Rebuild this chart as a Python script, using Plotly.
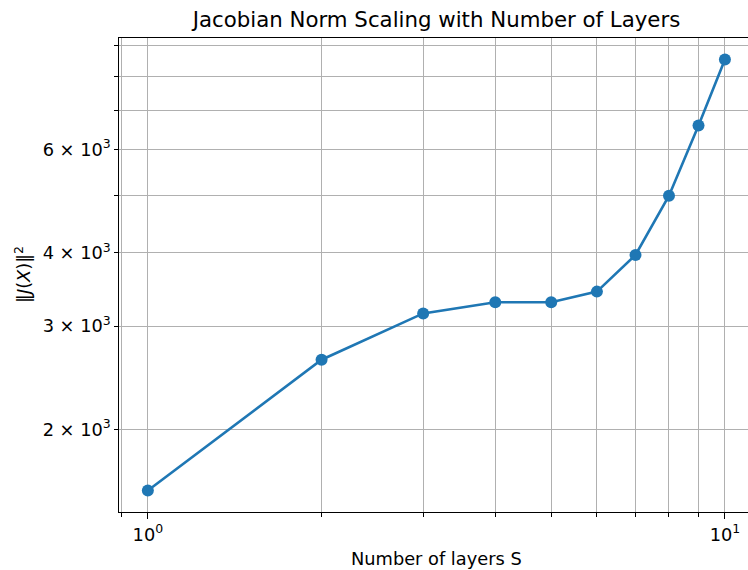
import math
import plotly.graph_objects as go

# Jacobian norm measured for each network depth
layers = [1, 2, 3, 4, 5, 6, 7, 8, 9, 10]
jacobian_norm_sq = [1576, 2631, 3155, 3295, 3295, 3436, 3967, 5005, 6589, 8534]

# Tick positions and labels
x_major = [1, 10]
x_major_text = ["10<sup>0</sup>", "10<sup>1</sup>"]
x_minor = [0.9, 2, 3, 4, 5, 6, 7, 8, 9, 11]
y_ticks = [2000, 3000, 4000, 5000, 6000, 7000, 8000, 9000]
y_tick_text = ["2 × 10<sup>3</sup>", "3 × 10<sup>3</sup>", "4 × 10<sup>3</sup>", "",
               "6 × 10<sup>3</sup>", "", "", ""]

FONT = "DejaVu Sans"
GRID = "#b0b0b0"
LABEL_SIZE = 17.8
TITLE_SIZE = 21.3
LW = 1.4
W, H = 748, 570
ML, MT, MB, MR = 119, 38, 58, 0

fig = go.Figure()
fig.add_trace(go.Scatter(
    x=layers, y=jacobian_norm_sq, mode="lines+markers",
    line=dict(color="#1f77b4", width=2.6),
    marker=dict(color="#1f77b4", size=12),
    showlegend=False,
))

# log-space limits with 5% padding on each side
xlo, xhi = math.log10(min(layers)), math.log10(max(layers))
xpad = 0.05 * (xhi - xlo)
ylo, yhi = math.log10(min(jacobian_norm_sq)), math.log10(max(jacobian_norm_sq))
ypad = 0.05 * (yhi - ylo)

fig.update_xaxes(
    type="log",
    range=[xlo - xpad, xhi + 0.04],
    tickvals=x_major, ticktext=x_major_text,
    ticks="outside", ticklen=6, tickwidth=LW, tickcolor="black",
    showgrid=True, gridcolor=GRID, gridwidth=LW,
    minor=dict(tickvals=x_minor, ticks="outside", ticklen=3.5, tickwidth=LW,
               tickcolor="black", showgrid=True, gridcolor=GRID, gridwidth=LW),
    showline=True, linecolor="black", linewidth=LW, mirror=True,
    zeroline=False,
    tickfont=dict(family=FONT, size=LABEL_SIZE, color="black"),
)
fig.update_yaxes(
    type="log",
    range=[ylo - ypad, yhi + ypad],
    tickvals=y_ticks, ticktext=y_tick_text,
    ticks="outside", ticklen=3.5, tickwidth=LW, tickcolor="black",
    showgrid=True, gridcolor=GRID, gridwidth=LW,
    showline=True, linecolor="black", linewidth=LW, mirror=False,
    zeroline=False,
    tickfont=dict(family=FONT, size=LABEL_SIZE, color="black"),
)

pw = W - ML - MR
ph = H - MT - MB
fig.add_annotation(
    text="Number of layers S", xref="paper", yref="paper",
    x=(436.5 - ML) / pw, y=(H - MB - 558) / ph,
    showarrow=False, xanchor="center", yanchor="middle",
    font=dict(family=FONT, size=LABEL_SIZE, color="black"),
)
fig.add_annotation(
    text="‖<i>J</i>(<i>X</i>)‖<sup>2</sup>", xref="paper", yref="paper",
    x=(22 - ML) / pw, y=0.5, textangle=-90,
    showarrow=False, xanchor="center", yanchor="middle",
    font=dict(family=FONT, size=LABEL_SIZE, color="black"),
)

fig.update_layout(
    width=W, height=H,
    margin=dict(l=ML, r=MR, t=MT, b=MB),
    paper_bgcolor="white", plot_bgcolor="white",
    title=dict(text="Jacobian Norm Scaling with Number of Layers",
               x=436.5 / W, xanchor="center", y=1 - 20 / H, yanchor="middle",
               font=dict(family=FONT, size=TITLE_SIZE, color="black")),
)

fig.write_html("out.html")
